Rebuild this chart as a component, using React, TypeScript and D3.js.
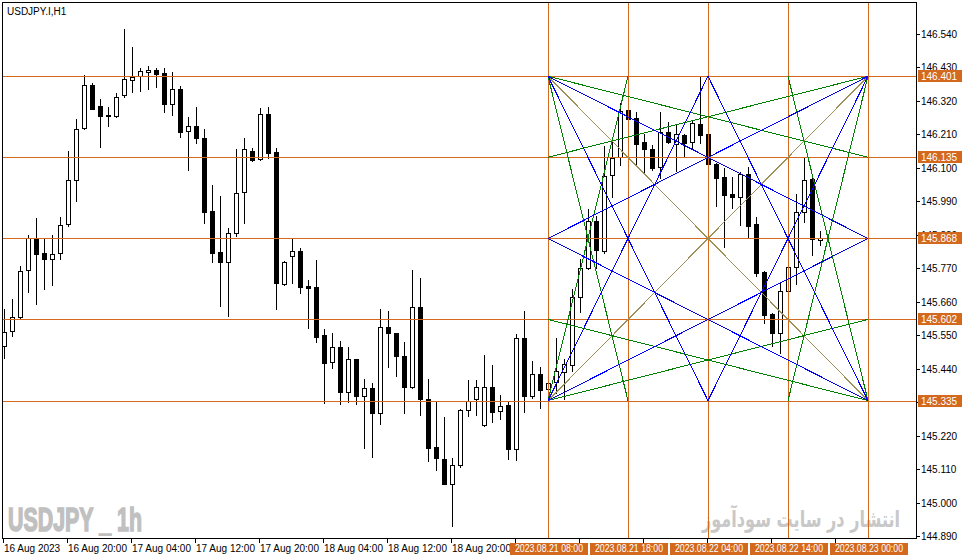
import { scaleLinear } from "d3";

// hourly bars, 16 Aug 12:00 (index 0) .. 22 Aug 18:00 (index 102)
const opens = [
  145.516, 145.564, 145.611, 145.765, 145.87, 145.82, 145.8, 145.819, 145.915, 146.059,
  146.23, 146.372, 146.303, 146.272, 146.271, 146.341, 146.388, 146.402, 146.414, 146.422,
  146.412, 146.311, 146.358, 146.22, 146.237, 146.197, 145.957, 145.823, 145.789, 145.885,
  146.02, 146.156, 146.128, 146.276, 146.151, 145.718, 145.81, 145.826, 145.712, 145.708,
  145.55, 145.461, 145.51, 145.362, 145.471, 145.351, 145.376, 145.293, 145.576, 145.556,
  145.483, 145.381, 145.642, 145.34, 145.182, 145.142, 145.062, 145.122, 145.303, 145.34,
  145.254, 145.379, 145.301, 145.32, 145.177, 145.54, 145.351, 145.422, 145.372, 145.395,
  145.428, 145.451, 145.675, 145.77, 145.925, 145.828, 146.075, 146.137, 146.29, 146.263,
  146.185, 146.162, 146.104, 146.217, 146.18, 146.208, 146.184, 146.244, 146.212, 146.114,
  146.069, 146.013, 146.005, 146.08, 145.916, 145.758, 145.62, 145.556, 145.694, 145.775,
  145.956, 146.063, 145.864,
];
const highs = [
  145.636, 145.669, 145.778, 145.88, 145.935, 145.87, 145.88, 145.939, 146.156, 146.261,
  146.404, 146.378, 146.327, 146.299, 146.347, 146.557, 146.498, 146.428, 146.435, 146.428,
  146.428, 146.415, 146.369, 146.267, 146.3, 146.229, 146.044, 146.008, 145.902, 146.161,
  146.198, 146.165, 146.296, 146.299, 146.165, 145.794, 145.866, 145.836, 145.732, 145.798,
  145.57, 145.557, 145.531, 145.51, 145.473, 145.406, 145.393, 145.636, 145.63, 145.558,
  145.527, 145.765, 145.738, 145.406, 145.33, 145.281, 145.146, 145.306, 145.403, 145.403,
  145.484, 145.451, 145.353, 145.331, 145.553, 145.629, 145.465, 145.445, 145.396, 145.54,
  145.471, 145.701, 145.8, 145.965, 145.942, 146.172, 146.192, 146.314, 146.294, 146.283,
  146.212, 146.175, 146.283, 146.25, 146.241, 146.21, 146.258, 146.4, 146.214, 146.116,
  146.099, 146.071, 146.088, 146.102, 145.938, 145.762, 145.622, 145.721, 145.777, 146.014,
  146.132, 146.069, 145.893,
];
const lows = [
  145.475, 145.548, 145.604, 145.692, 145.653, 145.702, 145.715, 145.8, 145.909, 145.992,
  146.228, 146.293, 146.17, 146.236, 146.268, 146.332, 146.349, 146.354, 146.36, 146.366,
  146.285, 146.275, 146.201, 146.093, 146.183, 145.918, 145.789, 145.647, 145.614, 145.877,
  145.92, 146.124, 146.126, 146.132, 145.636, 145.715, 145.723, 145.688, 145.573, 145.527,
  145.326, 145.441, 145.323, 145.332, 145.323, 145.18, 145.151, 145.257, 145.447, 145.417,
  145.295, 145.378, 145.287, 145.138, 145.108, 145.061, 144.924, 145.118, 145.286, 145.289,
  145.252, 145.266, 145.276, 145.144, 145.141, 145.299, 145.345, 145.312, 145.367, 145.361,
  145.34, 145.432, 145.626, 145.767, 145.771, 145.821, 146.005, 146.11, 146.258, 146.113,
  146.082, 146.093, 146.066, 146.182, 146.091, 146.137, 146.165, 146.181, 146.112, 145.976,
  145.841, 145.967, 145.912, 145.871, 145.745, 145.589, 145.516, 145.493, 145.692, 145.718,
  145.923, 145.812, 145.847,
];
const closes = [
  145.562, 145.611, 145.76, 145.87, 145.816, 145.8, 145.816, 145.911, 146.059, 146.227,
  146.372, 146.295, 146.272, 146.274, 146.332, 146.391, 146.4, 146.419, 146.422, 146.41,
  146.311, 146.358, 146.219, 146.237, 146.197, 145.956, 145.821, 145.789, 145.885, 146.017,
  146.161, 146.126, 146.276, 146.15, 145.721, 145.79, 145.826, 145.71, 145.704, 145.543,
  145.46, 145.51, 145.364, 145.471, 145.351, 145.376, 145.295, 145.576, 145.556, 145.483,
  145.381, 145.642, 145.34, 145.18, 145.148, 145.062, 145.123, 145.303, 145.335, 145.379,
  145.379, 145.299, 145.316, 145.177, 145.54, 145.351, 145.422, 145.371, 145.392, 145.432,
  145.455, 145.675, 145.77, 145.925, 145.831, 146.073, 146.134, 146.288, 146.26, 146.18,
  146.163, 146.101, 146.217, 146.184, 146.211, 146.183, 146.247, 146.209, 146.114, 146.068,
  146.012, 146.005, 146.08, 145.91, 145.756, 145.618, 145.556, 145.695, 145.775, 145.954,
  146.06, 145.865, 145.868,
];

const priceTicks = [
  146.54, 146.43, 146.32, 146.21, 146.1, 145.99, 145.88, 145.77, 145.66, 145.55, 145.44,
  145.33, 145.22, 145.11, 145.0, 144.89,
];

// every 8 bars; the ones from index 64 on sit under the orange time labels
const timeTickBars = [0, 8, 16, 24, 32, 40, 48, 56, 64, 72, 80, 88, 96, 104];
const timeTickLabels = [
  "16 Aug 2023", "16 Aug 20:00", "17 Aug 04:00", "17 Aug 12:00", "17 Aug 20:00",
  "18 Aug 04:00", "18 Aug 12:00", "18 Aug 20:00",
];

// gann box: levels (horizontal lines) and columns (vertical lines)
const gannLevels = [146.401, 146.135, 145.868, 145.602, 145.335];
const gannBars = [68, 78, 88, 98, 108];
const gannTimeLabels = [
  "2023.08.21 08:00", "2023.08.21 18:00", "2023.08.22 04:00", "2023.08.22 14:00", "2023.08.23 00:00",
];

// [col, level] -> [col, level]
const greenRays = [
  [[0, 0], [1, 4]], [[0, 0], [4, 1]], [[4, 0], [3, 4]], [[4, 0], [0, 1]],
  [[0, 4], [1, 0]], [[0, 4], [4, 3]], [[4, 4], [3, 0]], [[4, 4], [0, 3]],
];
const blueRays = [
  [[0, 0], [2, 4]], [[0, 0], [4, 2]], [[4, 0], [2, 4]], [[4, 0], [0, 2]],
  [[0, 4], [2, 0]], [[0, 4], [4, 2]], [[4, 4], [2, 0]], [[4, 4], [0, 2]],
];
const diagRays = [
  [[0, 0], [4, 4]], [[4, 0], [0, 4]],
];

const W = 962;
const H = 560;
const left = 3;
const top = 3;
const right = 916;
const bottom = 538;
const ORANGE = "#D2691E";
const FONT = "'Liberation Sans', Arial, sans-serif";

const App = () => {
  const x = scaleLinear().domain([0, 108]).range([4, 868]);
  const y = scaleLinear().domain([144.89, 146.54]).range([536, 34]);

  const px = (v: number) => Math.round(v) + 0.5;

  const rayLines = (rays: number[][][], color: string, key: string) =>
    rays.map(([a, b], i) => (
      <line
        key={`${key}-${i}`}
        x1={x(gannBars[a[0]])}
        y1={y(gannLevels[a[1]])}
        x2={x(gannBars[b[0]])}
        y2={y(gannLevels[b[1]])}
        stroke={color}
        strokeWidth={1}
      />
    ));

  return (
    <svg
      width={W}
      height={H}
      style={{ position: "absolute", left: 0, top: 0, background: "#fff" }}
      fontFamily={FONT}
    >
      <defs>
        <clipPath id="plot">
          <rect x={left} y={top} width={right - left} height={bottom - top} />
        </clipPath>
      </defs>
      <rect width={W} height={H} fill="#fff" />

      {/* watermarks */}
      <text
        x={8}
        y={531}
        fontFamily="'Liberation Sans Narrow', 'Arial Narrow', 'Liberation Sans', sans-serif"
        fontWeight="bold"
        fontSize={34}
        fill="#C0C0C0"
        stroke="#C0C0C0"
        strokeWidth={1.6}
        textLength={134}
        lengthAdjust="spacingAndGlyphs"
      >
        USDJPY _ 1h
      </text>
      <text
        x={702}
        y={527}
        fontFamily="'DejaVu Sans', 'Noto Sans', sans-serif"
        fontWeight="bold"
        fontSize={23}
        fill="#C8C8C8"
        textLength={198}
        lengthAdjust="spacingAndGlyphs"
      >
        انتشار در سایت سودآموز
      </text>

      <text x={7} y={15} fontSize={10} fill="#000">
        USDJPY.I,H1
      </text>

      {/* candles */}
      <g clipPath="url(#plot)" shapeRendering="crispEdges">
        {opens.map((o, i) => {
          const c = closes[i];
          const cx = Math.round(x(i));
          const yTop = Math.round(y(Math.max(o, c)));
          const yBot = Math.round(y(Math.min(o, c)));
          const bull = c >= o;
          return (
            <g key={`bar-${i}`}>
              <line
                x1={cx + 0.5}
                x2={cx + 0.5}
                y1={Math.round(y(highs[i]))}
                y2={Math.round(y(lows[i])) + 1}
                stroke="#000"
              />
              {bull ? (
                <rect
                  x={cx - 1.5}
                  y={yTop + 0.5}
                  width={4}
                  height={Math.max(yBot - yTop, 1)}
                  fill="#fff"
                  stroke="#000"
                />
              ) : (
                <rect x={cx - 2} y={yTop} width={5} height={Math.max(yBot - yTop + 1, 2)} fill="#000" />
              )}
            </g>
          );
        })}
      </g>

      {/* objects */}
      <g clipPath="url(#plot)" shapeRendering="crispEdges">
        {gannLevels.map((lv, i) => (
          <line key={`h-${i}`} x1={left} x2={right} y1={px(y(lv))} y2={px(y(lv))} stroke={ORANGE} />
        ))}
        {gannBars.map((b, i) => (
          <line key={`v-${i}`} x1={px(x(b))} x2={px(x(b))} y1={top} y2={bottom} stroke={ORANGE} />
        ))}
        {rayLines(diagRays, "#9C9058", "d")}
        {rayLines(greenRays, "#008000", "g")}
        {rayLines(blueRays, "#0000FF", "b")}
      </g>

      {/* frame */}
      <rect
        x={left - 0.5}
        y={top - 0.5}
        width={right - left + 1}
        height={bottom - top + 1}
        fill="none"
        stroke="#000"
        shapeRendering="crispEdges"
      />

      {/* price axis */}
      {priceTicks.map((p, i) => {
        const ty = Math.round(y(p));
        return (
          <g key={`pt-${i}`}>
            <line x1={right} x2={right + 4} y1={ty + 0.5} y2={ty + 0.5} stroke="#000" shapeRendering="crispEdges" />
            <text x={921} y={ty + 4} fontSize={10} fill="#000">
              {p.toFixed(3)}
            </text>
          </g>
        );
      })}
      {gannLevels.map((lv, i) => {
        const ty = Math.round(y(lv));
        return (
          <g key={`pl-${i}`}>
            <rect x={918} y={ty - 6} width={44} height={12} fill={ORANGE} />
            <text x={921} y={ty + 4} fontSize={10} fill="#fff">
              {lv.toFixed(3)}
            </text>
          </g>
        );
      })}

      {/* time axis */}
      {timeTickBars.map((b, i) => {
        const tx = Math.round(x(b)) - 1;
        return (
          <g key={`tt-${i}`}>
            <line x1={tx + 0.5} x2={tx + 0.5} y1={bottom} y2={bottom + 5} stroke="#000" shapeRendering="crispEdges" />
            {timeTickLabels[i] && (
              <text x={tx + 1} y={552} fontSize={10} fill="#000">
                {timeTickLabels[i]}
              </text>
            )}
          </g>
        );
      })}
      {gannBars.map((b, i) => {
        const tx = Math.round(x(b));
        return (
          <g key={`tl-${i}`}>
            <rect x={tx - 38} y={543} width={78} height={12} fill={ORANGE} />
            <text
              x={tx - 33}
              y={552}
              fontSize={10}
              fill="#fff"
              textLength={68}
              lengthAdjust="spacingAndGlyphs"
            >
              {gannTimeLabels[i]}
            </text>
          </g>
        );
      })}
    </svg>
  );
};

export default App;
